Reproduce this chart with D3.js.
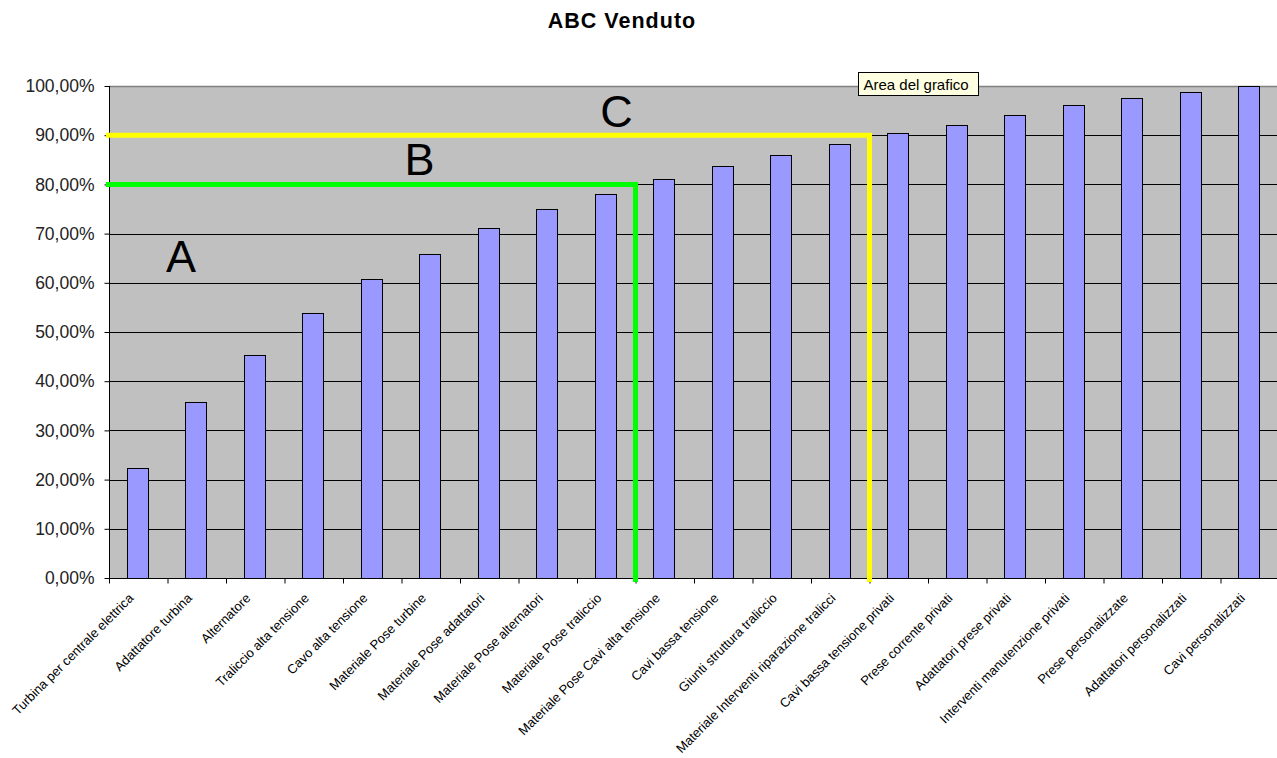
<!DOCTYPE html>
<html>
<head>
<meta charset="utf-8">
<script src="https://cdn.jsdelivr.net/npm/d3@7"></script>
<style>
  html, body { margin: 0; padding: 0; background: #fff; }
  svg { display: block; }
</style>
</head>
<body>
<svg id="chart" width="1277" height="758"></svg>
<script>
const title = "ABC Venduto";
const categories = [
  "Turbina per centrale elettrica",
  "Adattatore turbina",
  "Alternatore",
  "Traliccio alta tensione",
  "Cavo alta tensione",
  "Materiale Pose turbine",
  "Materiale Pose adattatori",
  "Materiale Pose alternatori",
  "Materiale Pose traliccio",
  "Materiale Pose Cavi alta tensione",
  "Cavi bassa tensione",
  "Giunti struttura traliccio",
  "Materiale Interventi riparazione tralicci",
  "Cavi bassa tensione privati",
  "Prese corrente privati",
  "Adattatori prese privati",
  "Interventi manutenzione privati",
  "Prese personalizzate",
  "Adattatori personalizzati",
  "Cavi personalizzati"
];
const cumulative = [0.223, 0.358, 0.453, 0.539, 0.607, 0.659, 0.712, 0.750, 0.780, 0.810,
                    0.837, 0.860, 0.883, 0.904, 0.921, 0.941, 0.961, 0.976, 0.987, 1.000];
const yTicks = [0, 0.1, 0.2, 0.3, 0.4, 0.5, 0.6, 0.7, 0.8, 0.9, 1.0];
const thresholdValues = [0.8, 0.9];
const thresholdBoundaries = [9, 13];
const thresholdColors = ["#00ff00", "#ffff00"];
const classLabels = ["A", "B", "C"];
const tooltipText = "Area del grafico";

const svg = d3.select("#chart");
const pLeft = 109, pRight = 1279, pTop = 86, pBottom = 578;

const x = d3.scaleBand().domain(categories).range([pLeft, pRight])
  .paddingInner(0.64).paddingOuter(0.32).align(0.475);
const xb = d3.scaleLinear().domain([0, categories.length]).range([pLeft, pRight]);
const y = d3.scaleLinear().domain([0, 1]).range([pBottom, pTop]);

const it = d3.formatLocale({decimal: ",", thousands: ".", grouping: [3], currency: ["€", ""]});
const fmt = it.format(".2%");

// title
svg.append("text").attr("x", 622).attr("y", 28).attr("text-anchor", "middle")
  .attr("font-family", "Liberation Sans, Arial, sans-serif").attr("font-weight", "bold")
  .attr("font-size", 21.5).attr("letter-spacing", 1).attr("fill", "#000").text(title);

// plot background
svg.append("rect").attr("x", pLeft).attr("y", pTop).attr("width", pRight - pLeft).attr("height", pBottom - pTop)
  .attr("fill", "#c0c0c0");

// gridlines
svg.append("g").selectAll("line").data(yTicks.filter(d => d > 0 && d < 1)).join("line")
  .attr("x1", pLeft).attr("x2", pRight).attr("y1", d => Math.round(y(d)) + 0.5).attr("y2", d => Math.round(y(d)) + 0.5)
  .attr("stroke", "#000").attr("stroke-width", 1);
// top border
svg.append("line").attr("x1", pLeft).attr("x2", pRight).attr("y1", pTop + 0.5).attr("y2", pTop + 0.5)
  .attr("stroke", "#808080").attr("stroke-width", 1.5);

// bars
svg.append("g").selectAll("rect").data(categories).join("rect")
  .attr("x", d => Math.round(x(d)) + 0.5)
  .attr("y", (d, i) => Math.round(y(cumulative[i])) + 0.5)
  .attr("width", Math.round(x.bandwidth()))
  .attr("height", (d, i) => Math.round(y(0)) - Math.round(y(cumulative[i])))
  .attr("fill", "#9999ff").attr("stroke", "#000").attr("stroke-width", 1);

// y axis
const yAxis = d3.axisLeft(y).tickValues(yTicks).tickFormat(fmt).tickSize(5).tickPadding(10);
const gy = svg.append("g").attr("transform", `translate(${pLeft + 0.5},0)`).call(yAxis);
gy.select(".domain").attr("stroke", "#000").attr("d", `M0,${pTop}V${pBottom}`);
gy.selectAll(".tick line").attr("stroke", "#000");
gy.selectAll(".tick text").attr("font-family", "Liberation Sans, Arial, sans-serif")
  .attr("font-size", 17.5).attr("fill", "#222");

// x axis (ticks at band boundaries)
const xAxis = d3.axisBottom(xb).tickValues(d3.range(0, categories.length + 1)).tickFormat("").tickSize(5);
const gx = svg.append("g").attr("transform", `translate(0,${pBottom + 0.5})`).call(xAxis);
gx.select(".domain").attr("stroke", "#000").attr("d", `M${pLeft},0H${pRight}`);
gx.selectAll(".tick line").attr("stroke", "#000");

// category labels
svg.append("g").selectAll("text").data(categories).join("text")
  .attr("transform", d => `translate(${x(d) + x.bandwidth() / 2 - 3},${pBottom + 21}) rotate(-45)`)
  .attr("text-anchor", "end")
  .attr("font-family", "Liberation Sans, Arial, sans-serif").attr("font-size", 13)
  .attr("fill", "#000").text(d => d);

// threshold lines
thresholdValues.forEach((v, k) => {
  const bx = xb(thresholdBoundaries[k]);
  svg.append("path")
    .attr("d", `M${pLeft - 3},${y(v)}H${bx}V${pBottom + 4}`)
    .attr("fill", "none").attr("stroke", thresholdColors[k]).attr("stroke-width", 5)
    .attr("stroke-linejoin", "miter");
});

// class labels
const labelXs = [181, 419.5, 616.5];
const labelYs = [272, 175, 126.5];
classLabels.forEach((t, k) => {
  svg.append("text").attr("x", labelXs[k]).attr("y", labelYs[k]).attr("text-anchor", "middle")
    .attr("font-family", "Liberation Sans, Arial, sans-serif").attr("font-size", 45)
    .attr("fill", "#000").text(t);
});

// tooltip
const tip = svg.append("g").attr("transform", "translate(858.5,72.5)");
tip.append("rect").attr("width", 120).attr("height", 23).attr("fill", "#ffffe1").attr("stroke", "#000");
tip.append("text").attr("x", 5).attr("y", 17).attr("font-family", "Liberation Sans, Arial, sans-serif")
  .attr("font-size", 15).attr("fill", "#000").text(tooltipText);
</script>
</body>
</html>
